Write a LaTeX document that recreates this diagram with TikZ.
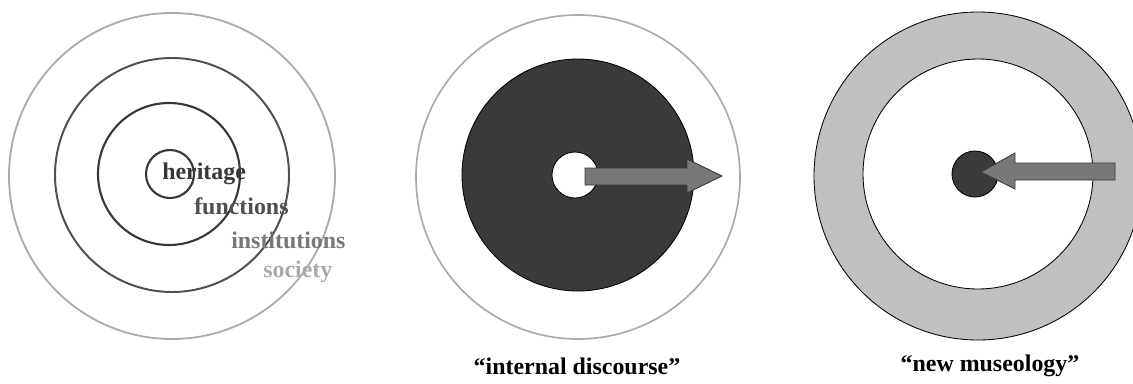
\documentclass[tikz,border=0pt]{standalone}
\usepackage{fontspec}
\setmainfont{Liberation Serif}
\definecolor{ringdark}{RGB}{55,55,55}
\definecolor{ringmid}{RGB}{80,80,80}
\definecolor{ringlight}{RGB}{170,170,170}
\definecolor{diskdark}{RGB}{58,58,58}
\definecolor{bandgray}{RGB}{192,192,192}
\definecolor{arrowgray}{RGB}{120,120,120}
\tikzset{
  label/.style={font=\fontsize{17}{20}\selectfont\bfseries, inner sep=0pt},
  bigarrow/.style={fill=arrowgray, draw=ringdark, line width=0.6pt, line join=miter}
}

\begin{document}
\begin{tikzpicture}[x={(0.025cm,0)}, y={(0,-0.025cm)}]

% Frame
\useasboundingbox (0,0) rectangle (1133,383);

% Left: nested circles
\draw[ringlight, line width=1.3pt] (172,176) circle (163);
\draw[ringmid, line width=1.4pt] (172,175) circle (117);
\draw[ringdark, line width=1.5pt] (169,174) circle (71);
\draw[ringdark, line width=1.5pt] (170,174) circle (24);

% Left: labels
\node[label, text=ringdark, anchor=west] (heritage) at (162,174) {heritage};
\node[label, text=ringmid, anchor=west] (functions) at (194,206) {functions};
\node[label, text=arrowgray, anchor=west] (institutions) at (231,240) {institutions};
\node[label, text=ringlight, anchor=west] (society) at (263,272) {society};

% Middle: internal discourse
\draw[ringlight, line width=1.2pt] (578,177) circle (162);
\filldraw[fill=diskdark, draw=black, line width=0.6pt] (578,175) circle (116);
\filldraw[fill=white, draw=black, line width=0.6pt] (575,175) circle (23);
\draw[bigarrow] (585,168) -- (687,168) -- (687,159) -- (722,176)
  -- (687,193) -- (687,185) -- (585,185) -- cycle;
\node[label, text=black] (internal) at (577,366) {“internal discourse”};

% Right: new museology
\filldraw[fill=bandgray, draw=black, line width=0.6pt] (978,176) circle (164);
\filldraw[fill=white, draw=black, line width=0.6pt] (978,174) circle (115);
\filldraw[fill=diskdark, draw=black, line width=0.6pt] (975,174) circle (23);
\draw[bigarrow] (1115,163) -- (1015,163) -- (1015,153) -- (981,172)
  -- (1015,189) -- (1015,180) -- (1115,180) -- cycle;
\node[label, text=black] (newmus) at (990,366) {“new museology”};

\end{tikzpicture}
\end{document}
